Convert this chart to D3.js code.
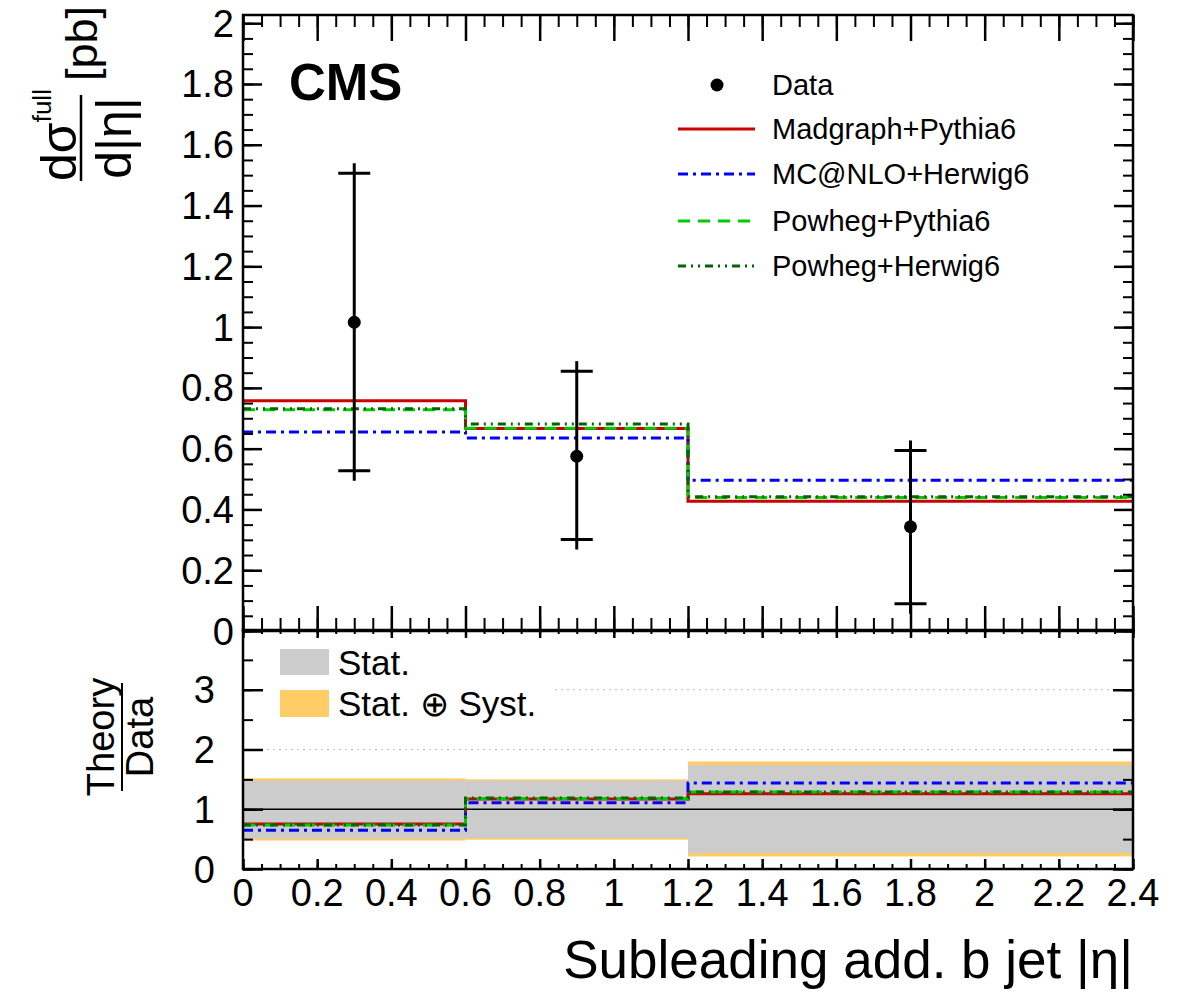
<!DOCTYPE html>
<html>
<head>
<meta charset="utf-8">
<script src="https://cdn.jsdelivr.net/npm/d3@7"></script>
<style>
  body { margin: 0; background: #fff; }
  text { font-family: "Liberation Sans", Arial, Helvetica, sans-serif; fill: #000; }
</style>
</head>
<body>
<svg id="chart" width="1181" height="992"></svg>
<script>
// bins and measured points
var binEdges = [0, 0.6, 1.2, 2.4];
var dataX = [0.3, 0.9, 1.8];
var dataY = [1.016, 0.575, 0.343];
var dataErrLow = [0.527, 0.301, 0.09];
var dataErrHigh = [1.506, 0.855, 0.594];

// theory predictions (pb)
var madgraphPythia6 = [0.758, 0.666, 0.427];
var mcatnloHerwig6 = [0.655, 0.635, 0.496];
var powhegPythia6 = [0.728, 0.667, 0.439];
var powhegHerwig6 = [0.731, 0.681, 0.442];

// theory / data
var ratioMadgraph = [0.755, 1.17, 1.26];
var ratioMcatnlo = [0.65, 1.11, 1.44];
var ratioPowhegPythia = [0.735, 1.175, 1.29];
var ratioPowhegHerwig = [0.735, 1.19, 1.29];

// uncertainty bands in the ratio panel
var statLow = [0.51, 0.517, 0.267];
var statHigh = [1.48, 1.477, 1.74];
var totalLow = [0.477, 0.49, 0.21];
var totalHigh = [1.517, 1.5, 1.8];

var legendNames = ["Madgraph+Pythia6", "MC@NLO+Herwig6", "Powheg+Pythia6", "Powheg+Herwig6"];

var styles = [
  { color: "#cc0000", dash: null },
  { color: "#0000ff", dash: "10,5,3,5" },
  { color: "#00cc00", dash: "12,8" },
  { color: "#006600", dash: "8,5,2,5,2,5" },
];

var svg = d3.select("#chart");

var x = d3.scaleLinear().domain([0, 2.4]).range([243, 1133]);
var yTop = d3.scaleLinear().domain([0, 2.027]).range([631, 15]);
var yRatio = d3.scaleLinear().domain([0, 4]).range([869, 630]);

/**
 * draws tick marks only (no labels, no domain line)
 */
function drawTicks(axis, tx, ty, vals, len, width) {
  svg
    .append("g")
    .attr("transform", "translate(" + tx + "," + ty + ")")
    .call(axis.tickValues(vals).tickSize(len).tickFormat(""))
    .call((g) => g.select(".domain").remove())
    .selectAll("line")
    .attr("stroke", "#000")
    .attr("stroke-width", width);
}

/**
 * histogram as a step line
 */
function stepPoints(values) {
  var pts = values.map((v, i) => [binEdges[i], v]);
  pts.push([binEdges[binEdges.length - 1], values[values.length - 1]]);
  return pts;
}

function drawSteps(yScale, series) {
  series.forEach(function (vals, i) {
    var line = d3
      .line()
      .x((d) => x(d[0]))
      .y((d) => yScale(d[1]))
      .curve(d3.curveStepAfter);
    svg
      .append("path")
      .attr("d", line(stepPoints(vals)))
      .attr("fill", "none")
      .attr("stroke", styles[i].color)
      .attr("stroke-width", 3)
      .attr("stroke-dasharray", styles[i].dash);
  });
}

// ---------- ratio panel: bands ----------
var nBins = binEdges.length - 1;
var bins = d3.range(nBins);

svg
  .selectAll("rect.total")
  .data(bins)
  .enter()
  .append("rect")
  .attr("x", (i) => x(binEdges[i]))
  .attr("width", (i) => x(binEdges[i + 1]) - x(binEdges[i]))
  .attr("y", (i) => yRatio(totalHigh[i]))
  .attr("height", (i) => yRatio(totalLow[i]) - yRatio(totalHigh[i]))
  .attr("fill", "#ffcc66");

svg
  .selectAll("rect.stat")
  .data(bins)
  .enter()
  .append("rect")
  .attr("x", (i) => x(binEdges[i]))
  .attr("width", (i) => x(binEdges[i + 1]) - x(binEdges[i]))
  .attr("y", (i) => yRatio(statHigh[i]))
  .attr("height", (i) => yRatio(statLow[i]) - yRatio(statHigh[i]))
  .attr("fill", "#cccccc");

// dotted grid lines at 2 and 3
svg
  .selectAll("line.grid")
  .data([2, 3])
  .enter()
  .append("line")
  .attr("x1", x(0))
  .attr("x2", x(2.4))
  .attr("y1", (d) => yRatio(d))
  .attr("y2", (d) => yRatio(d))
  .attr("stroke", "#bbbbbb")
  .attr("stroke-width", 1.2)
  .attr("stroke-dasharray", "2,4");

// line at 1
svg
  .append("line")
  .attr("x1", x(0))
  .attr("x2", x(2.4))
  .attr("y1", yRatio(1))
  .attr("y2", yRatio(1))
  .attr("stroke", "#000")
  .attr("stroke-width", 1.3);

drawSteps(yRatio, [ratioMadgraph, ratioMcatnlo, ratioPowhegPythia, ratioPowhegHerwig]);

// ratio legend
svg.append("rect").attr("x", 262).attr("y", 640).attr("width", 290).attr("height", 88).attr("fill", "#fff");
svg.append("rect").attr("x", 280).attr("y", 649).attr("width", 49).attr("height", 26).attr("fill", "#cccccc");
svg.append("rect").attr("x", 280).attr("y", 690).attr("width", 49).attr("height", 27).attr("fill", "#ffcc66");
svg.append("text").attr("x", 338).attr("y", 675).attr("font-size", 35).text("Stat.");
svg.append("text").attr("x", 338).attr("y", 716).attr("font-size", 35).text("Stat. \u2295 Syst.");

// ---------- top panel ----------
drawSteps(yTop, [madgraphPythia6, mcatnloHerwig6, powhegPythia6, powhegHerwig6]);

// data error bars
var dataIdx = d3.range(dataX.length);
svg
  .selectAll("line.err")
  .data(dataIdx)
  .enter()
  .append("line")
  .attr("x1", (i) => x(dataX[i]))
  .attr("x2", (i) => x(dataX[i]))
  .attr("y1", (i) => yTop(dataErrLow[i]) + 10)
  .attr("y2", (i) => yTop(dataErrHigh[i]) - 10)
  .attr("stroke", "#000")
  .attr("stroke-width", 3);

[dataErrLow, dataErrHigh].forEach(function (arr) {
  svg
    .selectAll(null)
    .data(dataIdx)
    .enter()
    .append("line")
    .attr("x1", (i) => x(dataX[i]) - 16)
    .attr("x2", (i) => x(dataX[i]) + 16)
    .attr("y1", (i) => yTop(arr[i]))
    .attr("y2", (i) => yTop(arr[i]))
    .attr("stroke", "#000")
    .attr("stroke-width", 3);
});

svg
  .selectAll("circle.data")
  .data(dataIdx)
  .enter()
  .append("circle")
  .attr("cx", (i) => x(dataX[i]))
  .attr("cy", (i) => yTop(dataY[i]))
  .attr("r", 6.5)
  .attr("fill", "#000");

// ---------- frames and ticks ----------
var xMajor = x.ticks(12);
var xMinor = x.ticks(48);

// top panel
drawTicks(d3.axisBottom(x), 0, yTop(0), xMinor, -13, 2);
drawTicks(d3.axisBottom(x), 0, yTop(0), xMajor, -25, 2.5);
drawTicks(d3.axisTop(x), 0, 15, xMinor, -12, 2);
drawTicks(d3.axisTop(x), 0, 15, xMajor, -26, 2.5);
drawTicks(d3.axisLeft(yTop), x(0), 0, yTop.ticks(40), -10, 2);
drawTicks(d3.axisLeft(yTop), x(0), 0, yTop.ticks(10), -19, 2.5);
drawTicks(d3.axisRight(yTop), x(2.4), 0, yTop.ticks(40), -10, 2);
drawTicks(d3.axisRight(yTop), x(2.4), 0, yTop.ticks(10), -19, 2.5);

// ratio panel
drawTicks(d3.axisBottom(x), 0, 869, xMinor, -5, 2);
drawTicks(d3.axisBottom(x), 0, 869, xMajor, -10, 2.5);
drawTicks(d3.axisTop(x), 0, 630, xMinor, -4, 2);
drawTicks(d3.axisTop(x), 0, 630, xMajor, -8, 2.5);
drawTicks(d3.axisLeft(yRatio), x(0), 0, yRatio.ticks(8), -10, 2);
drawTicks(d3.axisLeft(yRatio), x(0), 0, yRatio.ticks(4), -20, 2.5);
drawTicks(d3.axisRight(yRatio), x(2.4), 0, yRatio.ticks(8), -10, 2);
drawTicks(d3.axisRight(yRatio), x(2.4), 0, yRatio.ticks(4), -20, 2.5);

svg
  .append("rect")
  .attr("x", x(0))
  .attr("y", 15)
  .attr("width", x(2.4) - x(0))
  .attr("height", yTop(0) - 15)
  .attr("fill", "none")
  .attr("stroke", "#000")
  .attr("stroke-width", 2.5);

svg
  .append("rect")
  .attr("x", x(0))
  .attr("y", 630)
  .attr("width", x(2.4) - x(0))
  .attr("height", 869 - 630)
  .attr("fill", "none")
  .attr("stroke", "#000")
  .attr("stroke-width", 2.5);

// ---------- tick labels ----------
var fmt = d3.format("~g");

svg
  .selectAll("text.ytop")
  .data(yTop.ticks(10))
  .enter()
  .append("text")
  .attr("x", 234)
  .attr("y", (d) => yTop(d) + 13.5)
  .attr("text-anchor", "end")
  .attr("font-size", 38)
  .text(fmt);

svg
  .selectAll("text.yratio")
  .data([0, 1, 2, 3])
  .enter()
  .append("text")
  .attr("x", 215)
  .attr("y", (d) => yRatio(d) + 13.5)
  .attr("text-anchor", "end")
  .attr("font-size", 38)
  .text(fmt);

svg
  .selectAll("text.xlab")
  .data(xMajor)
  .enter()
  .append("text")
  .attr("x", (d) => x(d))
  .attr("y", 906)
  .attr("text-anchor", "middle")
  .attr("font-size", 38)
  .text(fmt);

// ---------- axis titles ----------
svg
  .append("text")
  .attr("x", x(2.4))
  .attr("y", 978)
  .attr("text-anchor", "end")
  .attr("font-size", 53)
  .text("Subleading add. b jet |\u03b7|");

// y title top panel: d sigma^full / d|eta| [pb]
var yTitle = svg.append("g").attr("transform", "translate(0,181) rotate(-90)");
var num = yTitle.append("text").attr("x", 0).attr("y", 76).attr("font-size", 50);
num.append("tspan").text("d\u03c3");
num.append("tspan").attr("font-size", 26).attr("dy", -25).text("full");
yTitle.append("line").attr("x1", 0).attr("x2", 86).attr("y1", 81).attr("y2", 81).attr("stroke", "#000").attr("stroke-width", 2.5);
yTitle.append("text").attr("x", 43).attr("y", 131).attr("text-anchor", "middle").attr("font-size", 50).text("d|\u03b7|");
yTitle.append("text").attr("x", 100).attr("y", 97).attr("font-size", 45).text("[pb]");

// y title ratio panel
var rTitle = svg.append("g").attr("transform", "translate(0,791) rotate(-90)");
rTitle.append("text").attr("x", 54).attr("y", 114).attr("text-anchor", "middle").attr("font-size", 38).text("Theory");
rTitle.append("line").attr("x1", 0).attr("x2", 108).attr("y1", 122).attr("y2", 122).attr("stroke", "#000").attr("stroke-width", 2);
rTitle.append("text").attr("x", 54).attr("y", 153).attr("text-anchor", "middle").attr("font-size", 38).text("Data");

// ---------- CMS label and legend ----------
svg.append("text").attr("x", 289).attr("y", 100).attr("font-size", 51).attr("font-weight", "bold").text("CMS");

var legendRowY = [85, 129, 174, 221, 266];
svg.append("circle").attr("cx", 717).attr("cy", legendRowY[0]).attr("r", 6.5).attr("fill", "#000");
svg.append("text").attr("x", 772).attr("y", legendRowY[0] + 10).attr("font-size", 29).text("Data");

legendNames.forEach(function (name, i) {
  var yy = legendRowY[i + 1];
  svg
    .append("line")
    .attr("x1", 678)
    .attr("x2", 755)
    .attr("y1", yy)
    .attr("y2", yy)
    .attr("stroke", styles[i].color)
    .attr("stroke-width", 3)
    .attr("stroke-dasharray", styles[i].dash);
  svg.append("text").attr("x", 772).attr("y", yy + 10).attr("font-size", 29).text(name);
});
</script>
</body>
</html>
